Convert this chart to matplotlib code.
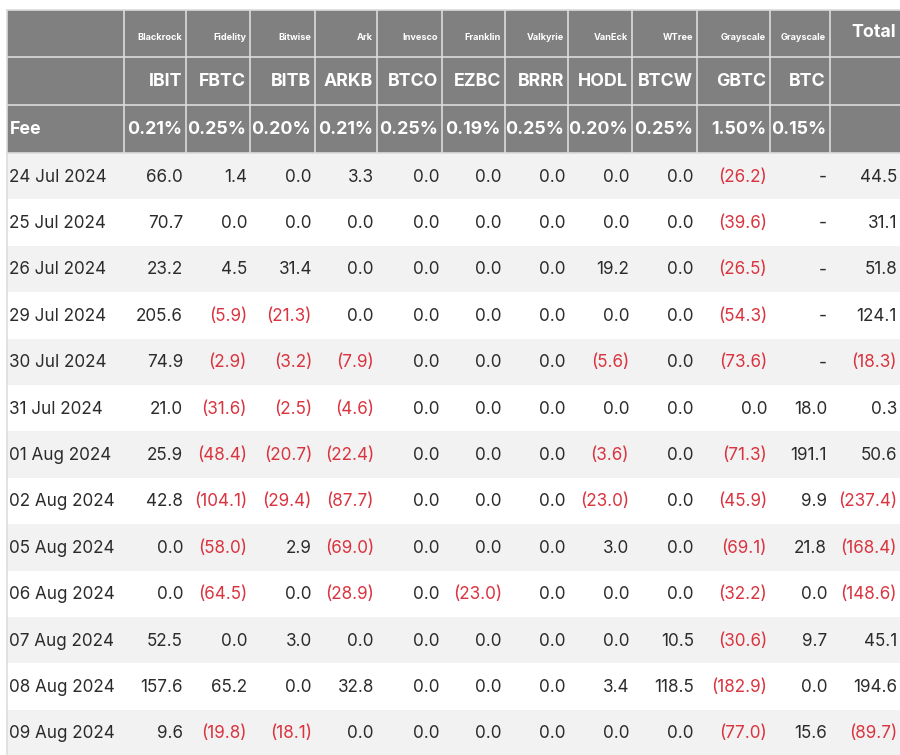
import matplotlib
matplotlib.use("Agg")
import matplotlib.pyplot as plt
from matplotlib.patches import Rectangle

plt.rcParams['font.family'] = ['Inter', 'DejaVu Sans']

issuers = ["Blackrock", "Fidelity", "Bitwise", "Ark", "Invesco", "Franklin",
           "Valkyrie", "VanEck", "WTree", "Grayscale", "Grayscale"]
tickers = ["IBIT", "FBTC", "BITB", "ARKB", "BTCO", "EZBC", "BRRR", "HODL",
           "BTCW", "GBTC", "BTC"]
fees = ["0.21%", "0.25%", "0.20%", "0.21%", "0.25%", "0.19%", "0.25%",
        "0.20%", "0.25%", "1.50%", "0.15%"]
dates = ["24 Jul 2024", "25 Jul 2024", "26 Jul 2024", "29 Jul 2024",
         "30 Jul 2024", "31 Jul 2024", "01 Aug 2024", "02 Aug 2024",
         "05 Aug 2024", "06 Aug 2024", "07 Aug 2024", "08 Aug 2024",
         "09 Aug 2024"]

# daily flows per fund (US$m), None = no data
ibit = [66.0, 70.7, 23.2, 205.6, 74.9, 21.0, 25.9, 42.8, 0.0, 0.0, 52.5, 157.6, 9.6]
fbtc = [1.4, 0.0, 4.5, -5.9, -2.9, -31.6, -48.4, -104.1, -58.0, -64.5, 0.0, 65.2, -19.8]
bitb = [0.0, 0.0, 31.4, -21.3, -3.2, -2.5, -20.7, -29.4, 2.9, 0.0, 3.0, 0.0, -18.1]
arkb = [3.3, 0.0, 0.0, 0.0, -7.9, -4.6, -22.4, -87.7, -69.0, -28.9, 0.0, 32.8, 0.0]
btco = [0.0] * 13
ezbc = [0.0, 0.0, 0.0, 0.0, 0.0, 0.0, 0.0, 0.0, 0.0, -23.0, 0.0, 0.0, 0.0]
brrr = [0.0] * 13
hodl = [0.0, 0.0, 19.2, 0.0, -5.6, 0.0, -3.6, -23.0, 3.0, 0.0, 0.0, 3.4, 0.0]
btcw = [0.0, 0.0, 0.0, 0.0, 0.0, 0.0, 0.0, 0.0, 0.0, 0.0, 10.5, 118.5, 0.0]
gbtc = [-26.2, -39.6, -26.5, -54.3, -73.6, 0.0, -71.3, -45.9, -69.1, -32.2, -30.6, -182.9, -77.0]
btc = [None, None, None, None, None, 18.0, 191.1, 9.9, 21.8, 0.0, 9.7, 0.0, 15.6]
total = [44.5, 31.1, 51.8, 124.1, -18.3, 0.3, 50.6, -237.4, -168.4, -148.6, 45.1, 194.6, -89.7]

columns = [ibit, fbtc, bitb, arkb, btco, ezbc, brrr, hodl, btcw, gbtc, btc, total]

HEAD_BG = "#808080"
GRID = "#dcdcdc"
ROW_GRAY = "#f2f2f2"
TXT = "#2b2b2b"
RED = "#d9343f"


def fmt(v):
    if v is None:
        return "-", TXT
    if v < 0:
        return "(%.1f)" % abs(v), RED
    return "%.1f" % v, TXT


fig = plt.figure(figsize=(9, 7.55), dpi=100)
ax = fig.add_axes([0, 0, 1, 1])
ax.set_xlim(0, 900)
ax.set_ylim(755, 0)
ax.axis('off')

xs = [7, 124, 186, 250, 315, 377, 442, 505, 568, 632, 697, 770, 830, 900]
hy = [10, 57, 105, 153]
row_h = 46.4

# header block
ax.add_patch(Rectangle((xs[0], hy[0]), xs[-1] - xs[0], hy[-1] - hy[0],
                       facecolor=HEAD_BG, edgecolor="none"))
for x in xs[1:-1]:
    ax.plot([x, x], [hy[0], hy[-1]], color=GRID, lw=1.2)
for y in hy[1:]:
    ax.plot([xs[0], xs[-1]], [y, y], color=GRID, lw=1.2)
ax.plot([xs[0], xs[0]], [hy[0], hy[-1]], color=GRID, lw=1.2)
ax.plot([xs[0], xs[-1]], [hy[0], hy[0]], color=GRID, lw=1.2)

for i in range(len(tickers)):
    xr = xs[i + 2] - 4
    ax.text(xr, (hy[0] + hy[1]) / 2 + 4, issuers[i], ha='right', va='center',
            color='white', fontsize=6.6, fontweight='bold')
    ax.text(xr, (hy[1] + hy[2]) / 2 + 1, tickers[i], ha='right', va='center',
            color='white', fontsize=12.8, fontweight='bold')
    ax.text(xr, (hy[2] + hy[3]) / 2 + 1, fees[i], ha='right', va='center',
            color='white', fontsize=12.8, fontweight='bold')
ax.text(xs[-1] - 4, (hy[0] + hy[1]) / 2 - 1, "Total", ha='right', va='center',
        color='white', fontsize=12.8, fontweight='bold')
ax.text(xs[0] + 3, (hy[2] + hy[3]) / 2 + 1, "Fee", ha='left', va='center',
        color='white', fontsize=12.8, fontweight='bold')

# body rows
for r, d in enumerate(dates):
    y0 = hy[-1] + r * row_h
    if r % 2 == 0:
        ax.add_patch(Rectangle((xs[0], y0), xs[-1] - xs[0], row_h,
                               facecolor=ROW_GRAY, edgecolor="none"))
    yc = y0 + row_h / 2 + 1
    ax.text(xs[0] + 2, yc, d, ha='left', va='center', color=TXT, fontsize=12.3)
    for c, col in enumerate(columns):
        s, colr = fmt(col[r])
        ax.text(xs[c + 2] - 3, yc, s, ha='right', va='center', color=colr,
                fontsize=12.3)

ax.plot([xs[0], xs[0]], [hy[-1], 755], color="#dddddd", lw=1.2)

fig.savefig("out.png", dpi=100, facecolor="white")
